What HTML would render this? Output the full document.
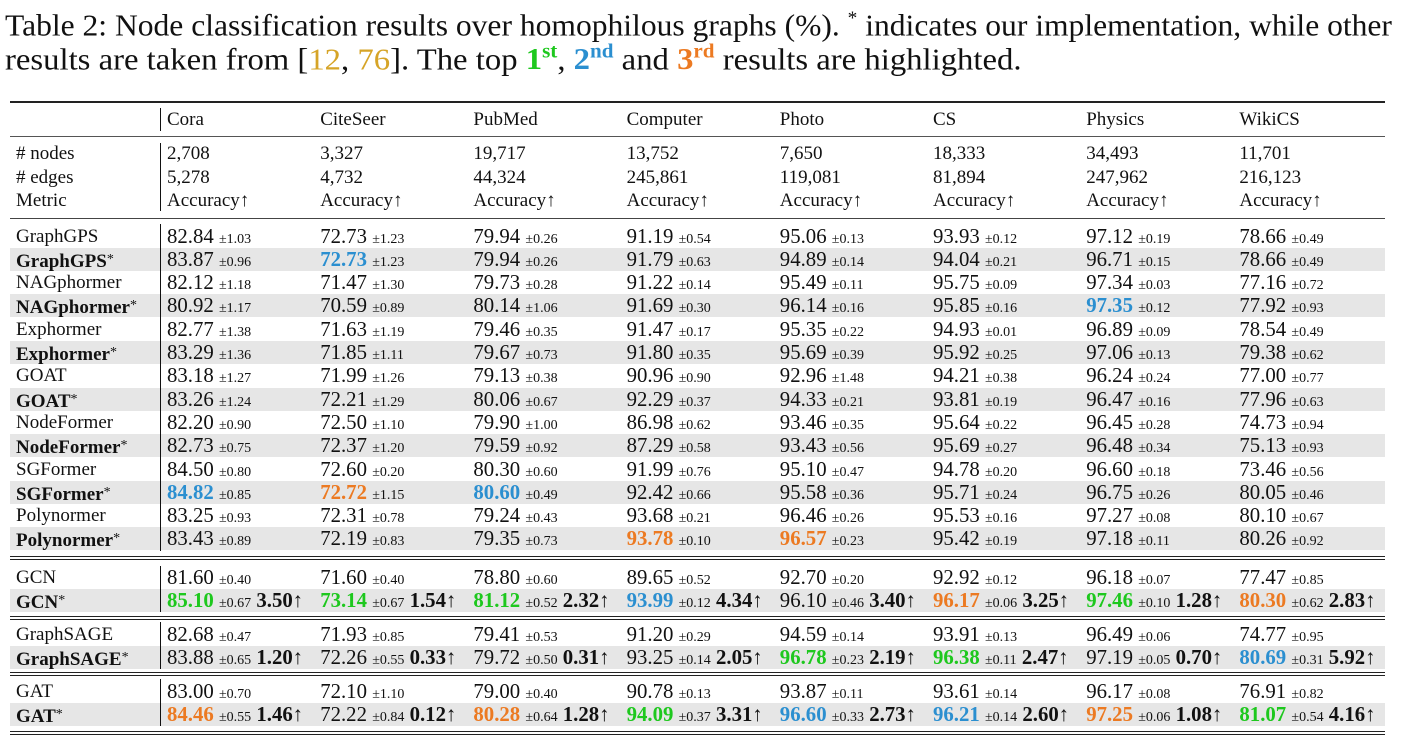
<!DOCTYPE html>
<html><head><meta charset="utf-8">
<style>
body{margin:0;width:1405px;height:751px;background:#fff;position:relative;overflow:hidden;font-family:"Liberation Serif",serif;color:#111}
.cap{position:absolute;left:5px;font-size:31px;white-space:nowrap;line-height:34px;transform-origin:0 0}
.row{position:absolute;left:0;width:1405px;height:23px;line-height:23px;font-size:19px;white-space:nowrap}
.gray{background:#e6e6e6;position:absolute;left:10px;width:1375px;height:23px}
.cell{position:absolute;top:0}
.res{font-size:20.8px}
.lab{position:absolute;left:16px;top:0}
.sd{font-size:14px}
.b{font-weight:bold}
.hl{position:absolute;left:10px;width:1375px;background:#222}
.vl{position:absolute;left:160px;width:1.3px;background:#111}
.g{color:#1ec81e}.bl{color:#2b8fd0}.o{color:#ec7a22}
sup{font-size:20px;font-weight:bold}
</style></head><body>
<div class="cap" style="top:2px;transform:scaleX(1.018)">Table 2: Node classification results over homophilous graphs (%). <sup style="font-weight:normal;font-size:19px">*</sup> indicates our implementation, while other</div>
<div class="cap" style="top:35px;transform:scaleX(1.055)">results are taken from [<span style="color:#d6a427">12</span>, <span style="color:#d6a427">76</span>]. The top <b class="g">1<sup>st</sup></b>, <b class="bl">2<sup>nd</sup></b> and <b class="o">3<sup>rd</sup></b> results are highlighted.</div>
<div id="tbl"></div>
<script>
const datasets=["Cora","CiteSeer","PubMed","Computer","Photo","CS","Physics","WikiCS"];
const nodes=["2,708","3,327","19,717","13,752","7,650","18,333","34,493","11,701"];
const edges=["5,278","4,732","44,324","245,861","119,081","81,894","247,962","216,123"];
const models=["GraphGPS","GraphGPS*","NAGphormer","NAGphormer*","Exphormer","Exphormer*","GOAT","GOAT*","NodeFormer","NodeFormer*","SGFormer","SGFormer*","Polynormer","Polynormer*","GCN","GCN*","GraphSAGE","GraphSAGE*","GAT","GAT*"];
const results=[
"82.84 1.03;72.73 1.23;79.94 0.26;91.19 0.54;95.06 0.13;93.93 0.12;97.12 0.19;78.66 0.49",
"83.87 0.96;72.73 1.23 bl;79.94 0.26;91.79 0.63;94.89 0.14;94.04 0.21;96.71 0.15;78.66 0.49",
"82.12 1.18;71.47 1.30;79.73 0.28;91.22 0.14;95.49 0.11;95.75 0.09;97.34 0.03;77.16 0.72",
"80.92 1.17;70.59 0.89;80.14 1.06;91.69 0.30;96.14 0.16;95.85 0.16;97.35 0.12 bl;77.92 0.93",
"82.77 1.38;71.63 1.19;79.46 0.35;91.47 0.17;95.35 0.22;94.93 0.01;96.89 0.09;78.54 0.49",
"83.29 1.36;71.85 1.11;79.67 0.73;91.80 0.35;95.69 0.39;95.92 0.25;97.06 0.13;79.38 0.62",
"83.18 1.27;71.99 1.26;79.13 0.38;90.96 0.90;92.96 1.48;94.21 0.38;96.24 0.24;77.00 0.77",
"83.26 1.24;72.21 1.29;80.06 0.67;92.29 0.37;94.33 0.21;93.81 0.19;96.47 0.16;77.96 0.63",
"82.20 0.90;72.50 1.10;79.90 1.00;86.98 0.62;93.46 0.35;95.64 0.22;96.45 0.28;74.73 0.94",
"82.73 0.75;72.37 1.20;79.59 0.92;87.29 0.58;93.43 0.56;95.69 0.27;96.48 0.34;75.13 0.93",
"84.50 0.80;72.60 0.20;80.30 0.60;91.99 0.76;95.10 0.47;94.78 0.20;96.60 0.18;73.46 0.56",
"84.82 0.85 bl;72.72 1.15 o;80.60 0.49 bl;92.42 0.66;95.58 0.36;95.71 0.24;96.75 0.26;80.05 0.46",
"83.25 0.93;72.31 0.78;79.24 0.43;93.68 0.21;96.46 0.26;95.53 0.16;97.27 0.08;80.10 0.67",
"83.43 0.89;72.19 0.83;79.35 0.73;93.78 0.10 o;96.57 0.23 o;95.42 0.19;97.18 0.11;80.26 0.92",
"81.60 0.40;71.60 0.40;78.80 0.60;89.65 0.52;92.70 0.20;92.92 0.12;96.18 0.07;77.47 0.85",
"85.10 0.67 g 3.50;73.14 0.67 g 1.54;81.12 0.52 g 2.32;93.99 0.12 bl 4.34;96.10 0.46 - 3.40;96.17 0.06 o 3.25;97.46 0.10 g 1.28;80.30 0.62 o 2.83",
"82.68 0.47;71.93 0.85;79.41 0.53;91.20 0.29;94.59 0.14;93.91 0.13;96.49 0.06;74.77 0.95",
"83.88 0.65 - 1.20;72.26 0.55 - 0.33;79.72 0.50 - 0.31;93.25 0.14 - 2.05;96.78 0.23 g 2.19;96.38 0.11 g 2.47;97.19 0.05 - 0.70;80.69 0.31 bl 5.92",
"83.00 0.70;72.10 1.10;79.00 0.40;90.78 0.13;93.87 0.11;93.61 0.14;96.17 0.08;76.91 0.82",
"84.46 0.55 o 1.46;72.22 0.84 - 0.12;80.28 0.64 o 1.28;94.09 0.37 g 3.31;96.60 0.33 bl 2.73;96.21 0.14 bl 2.60;97.25 0.06 o 1.08;81.07 0.54 g 4.16"
];
const T=document.getElementById('tbl');
const colX=i=>167+i*153.2;
const rowY=i=>i<14?236+i*23.3:[577,600,634,657,691,714][i-14];
function mkRow(cy,name){const r=document.createElement('div');r.className='row';r.style.top=(cy-11.5)+'px';


T.appendChild(r);return r;}
function line(cls,y,h,name,extra){const d=document.createElement('div');d.className=cls;d.style.top=y+'px';d.style.height=h+'px';if(extra)Object.assign(d.style,extra);


T.appendChild(d);}
let hr=mkRow(119,'header-row');
datasets.forEach((d,i)=>{const c=document.createElement('span');c.className='cell';c.style.left=colX(i)+'px';c.textContent=d;


hr.appendChild(c);});
[["# nodes",nodes,153],["# edges",edges,177],["Metric",datasets.map(()=>"Accuracy↑"),200]].forEach(([l,arr,y])=>{
const r=mkRow(y,l.replace('# ','')+'-row');r.innerHTML='<span class="lab">'+l+'</span>';
arr.forEach((v,i)=>{const c=document.createElement('span');c.className='cell';c.style.left=colX(i)+'px';c.textContent=v;


r.appendChild(c);});});
models.forEach((m,ri)=>{
const cy=rowY(ri);const star=m.endsWith('*');
if(star){const g=document.createElement('div');g.className='gray';g.style.top=(cy-11.5)+'px';


T.appendChild(g);}
const r=mkRow(cy,'row-'+m.replace('*','-ours').toLowerCase());
r.innerHTML='<span class="lab'+(star?' b':'')+'">'+(star?m.slice(0,-1)+'<span style="font-weight:normal;font-size:14px;vertical-align:4px">*</span>':m)+'</span>';
results[ri].split(';').forEach((cs,ci)=>{const p=cs.split(' ');const col=p[2]&&p[2]!=='-'?p[2]:'';
const c=document.createElement('span');c.className='cell res';c.style.left=colX(ci)+'px';
c.innerHTML='<span class="'+(col?col+' b':'')+'">'+p[0]+'</span> <span class="sd">±'+p[1]+'</span>'+(p[3]?' <span class="b">'+p[3]+'</span>↑':'');


r.appendChild(c);});
});
line('hl',101,1.6,'top-rule');
line('hl',135.5,1.3,'header-rule',{background:'#555'});
line('hl',217.5,1.3,'stats-rule',{background:'#444'});
[[555.5,'gcn'],[616,'graphsage'],[672,'gat'],[730.5,'bottom']].forEach(([y,n])=>{line('hl',y,1.3,n+'-rule-a');line('hl',y+3,1.3,n+'-rule-b');});
[[108,23],[143,68],[224,327],[566,46],[622,47],[679,47]].forEach(([y,h],i)=>line('vl',y,h,'column-divider-'+i));
</script>
</body></html>
